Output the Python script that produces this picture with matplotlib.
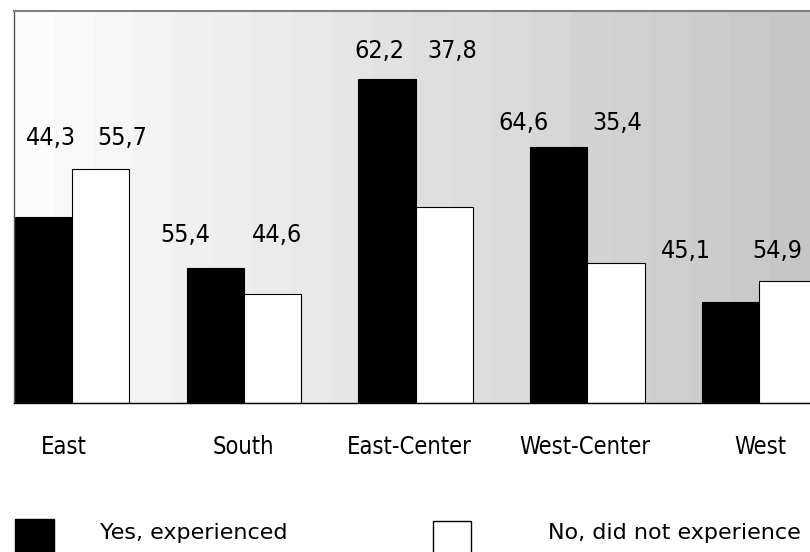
import numpy as np
import matplotlib
matplotlib.use("Agg")
import matplotlib.pyplot as plt
from matplotlib.patches import Rectangle

# ---- data ----
regions = ["East", "South", "East-Center", "West-Center", "West"]
yes_pct_labels = ["44,3", "55,4", "62,2", "64,6", "45,1"]
no_pct_labels = ["55,7", "44,6", "37,8", "35,4", "54,9"]
# bar heights (relative counts)
yes_heights = [47.4, 34.4, 82.7, 65.3, 25.8]
no_heights = [59.7, 27.8, 50.0, 35.7, 31.1]
legend_labels = ["Yes, experienced", "No, did not experience"]

# ---- layout constants (pixels) ----
yes_lbl_dx = [8, -30, -8, -35, -45]
no_lbl_dx = [22, 5, 8, 1, -10]
lbl_dy = [31, 33, 28, 24, 30]
cat_dx = [-8, 0, -6, -3, 1]

FONT = dict(family="DejaVu Sans", stretch="condensed")
LFONT = dict(family="DejaVu Sans")

W, H = 810, 552
fig = plt.figure(figsize=(W / 100, H / 100), dpi=100)
fig.patch.set_facecolor("white")
ax = fig.add_axes([14 / W, 1 - 403 / H, (W - 14) / W, (403 - 11) / H])

x = np.arange(len(regions))
bw = 1 / 3
ax.set_xlim(-0.3376, 4.296)
ax.set_ylim(0, 100)

# stepped gradient background
steps = 20
grad = np.linspace(0.985, 0.775, steps).reshape(1, -1)
ax.imshow(grad, cmap="gray", vmin=0, vmax=1, extent=[0, 1, 0, 1],
          transform=ax.transAxes, aspect="auto", interpolation="nearest", zorder=0)

ax.bar(x - bw / 2, yes_heights, width=bw, color="black", edgecolor="black",
       linewidth=0.8, zorder=2)
ax.bar(x + bw / 2, no_heights, width=bw, color="white", edgecolor="black",
       linewidth=0.8, zorder=2)

for i in range(len(regions)):
    top = max(yes_heights[i], no_heights[i])
    ax.annotate(yes_pct_labels[i], xy=(x[i] - bw / 2, top), xycoords="data",
                xytext=(yes_lbl_dx[i], lbl_dy[i]), textcoords="offset pixels",
                ha="center", va="center", fontsize=18, **FONT, zorder=3)
    ax.annotate(no_pct_labels[i], xy=(x[i] + bw / 2, top), xycoords="data",
                xytext=(no_lbl_dx[i], lbl_dy[i]), textcoords="offset pixels",
                ha="center", va="center", fontsize=18, **FONT, zorder=3)
    ax.annotate(regions[i], xy=(x[i], 0), xycoords=("data", "axes fraction"),
                xytext=(cat_dx[i], -51), textcoords="offset pixels",
                ha="center", va="baseline", fontsize=17, **FONT,
                annotation_clip=False)

ax.set_xticks([])
ax.set_yticks([])
ax.spines["right"].set_visible(False)
ax.spines["top"].set_color("#7f7f7f")
ax.spines["top"].set_linewidth(1.5)
ax.spines["left"].set_color("#555555")
ax.spines["left"].set_linewidth(1.0)
ax.spines["bottom"].set_color("black")
ax.spines["bottom"].set_linewidth(1.0)

# legend (figure pixel coordinates)
fig.add_artist(Rectangle((15 / W, -0.02), 39 / W, 33 / H + 0.02,
                         transform=fig.transFigure, facecolor="black",
                         edgecolor="black"))
fig.add_artist(Rectangle((433 / W, -0.02), 38 / W, 31 / H + 0.02,
                         transform=fig.transFigure, facecolor="white",
                         edgecolor="black", linewidth=1.0))
fig.text(100 / W, 13 / H, legend_labels[0], ha="left", va="baseline",
         fontsize=16, **LFONT)
fig.text(548 / W, 13 / H, legend_labels[1], ha="left", va="baseline",
         fontsize=16, **LFONT)

fig.savefig("out.png", dpi=100, facecolor="white")
